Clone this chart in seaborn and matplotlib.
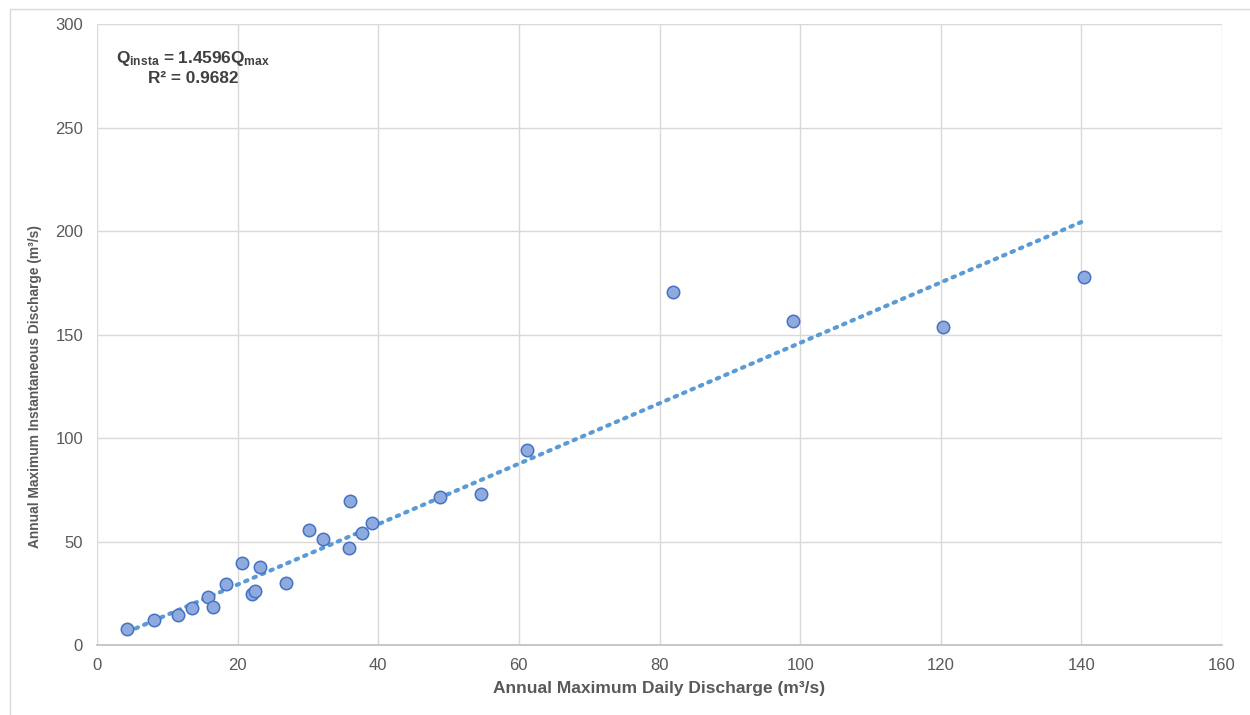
import matplotlib
matplotlib.use("Agg")
import matplotlib.pyplot as plt
import seaborn as sns
import pandas as pd
import numpy as np

# Data
daily_max = [4.3, 8.1, 11.5, 13.5, 15.8, 16.5, 18.3, 20.6, 23.2, 22.0, 22.5,
             26.9, 30.1, 32.2, 35.9, 36.0, 37.7, 39.1, 48.8, 54.6, 61.2,
             81.9, 99.0, 120.3, 140.4]
inst_max = [7.7, 12.0, 14.5, 17.9, 23.2, 18.4, 29.5, 39.6, 37.7, 24.5, 26.0,
            29.8, 55.6, 51.0, 46.7, 69.7, 54.0, 59.1, 71.5, 73.0, 94.2,
            170.5, 156.5, 153.6, 177.8]
slope = 1.4596
r2 = 0.9682
x_ticks = [0, 20, 40, 60, 80, 100, 120, 140, 160]
y_ticks = [0, 50, 100, 150, 200, 250, 300]

df = pd.DataFrame({"daily": daily_max, "inst": inst_max})

sns.set_theme(style="white")
plt.rcParams["font.family"] = ["Liberation Sans", "DejaVu Sans"]
plt.rcParams["mathtext.fontset"] = "custom"
plt.rcParams["mathtext.rm"] = "Liberation Sans"
plt.rcParams["mathtext.bf"] = "Liberation Sans:bold"
plt.rcParams["mathtext.it"] = "Liberation Sans:italic"

fig = plt.figure(figsize=(12.5, 7.15), dpi=100)
ax = fig.add_axes([0.0776, 0.0979, 0.9, 0.8685])

# chart border
fig.patches.append(plt.Rectangle((0.008, -0.01), 1.2, 0.998, transform=fig.transFigure,
                                 fill=False, edgecolor="#D9D9D9", linewidth=1.0))

# trendline
xl = np.array([min(daily_max), max(daily_max)])
ax.plot(xl, slope * xl, linestyle=(0, (0.6, 1.6)), color="#5B9BD5", linewidth=3.0,
        dash_capstyle="round", zorder=3)

sns.scatterplot(data=df, x="daily", y="inst", ax=ax, s=80, color="#8FAADC",
                edgecolor="#4472C4", linewidth=1.1, zorder=4)

ax.set_xlim(0, 160)
ax.set_ylim(0, 300)
ax.set_xticks(x_ticks)
ax.set_yticks(y_ticks)
ax.grid(True, color="#D9D9D9", linewidth=1.0)
ax.set_axisbelow(True)
for s in ["top", "right", "left"]:
    ax.spines[s].set_visible(False)
ax.spines["bottom"].set_color("#BFBFBF")
ax.spines["bottom"].set_linewidth(1.2)
ax.tick_params(axis="both", length=0, labelsize=12, labelcolor="#595959")
ax.tick_params(axis="y", pad=10)
ax.tick_params(axis="x", pad=9)

ax.set_xlabel("Annual Maximum Daily Discharge (m³/s)", fontsize=12.5,
              fontweight="bold", color="#595959")
ax.set_ylabel("Annual Maximum Instantaneous Discharge (m³/s)", fontsize=9.9,
              fontweight="bold", color="#595959")
ax.xaxis.set_label_coords(0.5, -0.058)
ax.yaxis.set_label_coords(-0.049, 0.416)

ax.text(0.0853, 0.945, r"$\mathbf{Q_{insta}}$" + " = " + f"{slope:.4f}" + r"$\mathbf{Q_{max}}$",
        transform=ax.transAxes, ha="center", va="center", fontsize=12.4,
        fontweight="bold", color="#404040")
ax.text(0.0853, 0.913, f"R² = {r2:.4f}", transform=ax.transAxes, ha="center",
        va="center", fontsize=12.4, fontweight="bold", color="#404040")

fig.savefig("out.png", dpi=100)
